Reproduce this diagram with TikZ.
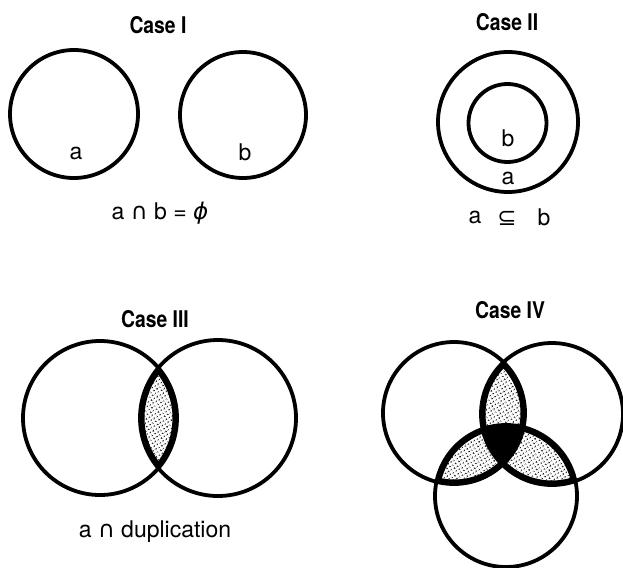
\documentclass[tikz,border=0pt]{standalone}
\usepackage{fontspec}
\setmainfont{TeX Gyre Heros}
\newfontfamily\titlefont[FakeStretch=0.84]{TeX Gyre Heros}
\newfontfamily\symfont{DejaVu Sans}
\usetikzlibrary{patterns.meta}
\pgfdeclarepattern{
  name=stip, type=uncolored,
  bottom left={\pgfpoint{0pt}{0pt}}, top right={\pgfpoint{3.6pt}{3.6pt}},
  tile size={\pgfpoint{3.6pt}{3.6pt}},
  tile transformation={\pgftransformrotate{30}},
  code={\pgfpathcircle{\pgfpoint{1.8pt}{1.8pt}}{1.05pt}\pgfusepath{fill}}
}
\tikzset{
  ring/.style={line width=3.8pt},
  border/.style={line width=9pt},
  title/.style={font=\titlefont\bfseries\fontsize{23}{25}\selectfont},
  lbl/.style={font=\fontsize{23}{25}\selectfont, inner sep=0pt},
  dotted fill/.style={pattern={stip}, pattern color=black}
}
\begin{document}
\begin{tikzpicture}[x=1pt,y=-1pt]
\useasboundingbox (0,0) rectangle (623,567);
% coordinates
\coordinate (cA1) at (74,114);
\coordinate (cB1) at (243,115);
\coordinate (cO2) at (508,122);
\coordinate (cI2) at (507.5,123);
\coordinate (cL3) at (100,418);
\coordinate (cR3) at (218,418);
\coordinate (cA4) at (454,413);
\coordinate (cB4) at (552,414);
\coordinate (cC4) at (506,496);
% Case I
\node[title] (t1) at (158,25) {Case I};
\draw[ring] (cA1) circle[radius=64pt];
\draw[ring] (cB1) circle[radius=63pt];
\node[lbl] (la1) at (76,153) {a};
\node[lbl] (lb1) at (245,152) {b};
\node[lbl] (eq1) at (160,213) {a {\symfont ∩} b = {\symfont\itshape ϕ}};
% Case II
\node[title] (t2) at (507,22) {Case II};
\draw[ring] (cO2) circle[radius=70pt];
\draw[ring] (cI2) circle[radius=39pt];
\node[lbl] (lb2) at (508,138) {b};
\node[lbl] (la2) at (508,178) {a};
\node[lbl] (ea2) at (475,217) {a};
\node[lbl] (es2) at (507,218) {\symfont ⊆};
\node[lbl] (eb2) at (544,217) {b};
% Case III
\node[title] (t3) at (155,319) {Case III};
\begin{scope}
  \clip (cL3) circle[radius=77pt];
  \clip (cR3) circle[radius=78pt];
  \fill[dotted fill] (cL3) circle[radius=77pt];
  \draw[border] (cL3) circle[radius=77pt];
  \draw[border] (cR3) circle[radius=78pt];
\end{scope}
\draw[ring] (cL3) circle[radius=77pt];
\draw[ring] (cR3) circle[radius=78pt];
\node[lbl] (e3) at (155,532) {a {\symfont ∩} duplication};
% Case IV
\node[title] (t4) at (510,310) {Case IV};
\foreach \p/\q in {cA4/cB4, cA4/cC4, cB4/cC4}{
  \begin{scope}
    \clip (\p) circle[radius=71pt];
    \clip (\q) circle[radius=71pt];
    \fill[dotted fill] (\p) circle[radius=71pt];
    \draw[border] (\p) circle[radius=71pt];
    \draw[border] (\q) circle[radius=71pt];
  \end{scope}
}
\begin{scope}
  \clip (cA4) circle[radius=71pt];
  \clip (cB4) circle[radius=71pt];
  \fill[black] (cC4) circle[radius=71pt];
\end{scope}
\draw[ring] (cA4) circle[radius=71pt];
\draw[ring] (cB4) circle[radius=71pt];
\draw[ring] (cC4) circle[radius=71pt];
\end{tikzpicture}
\end{document}
